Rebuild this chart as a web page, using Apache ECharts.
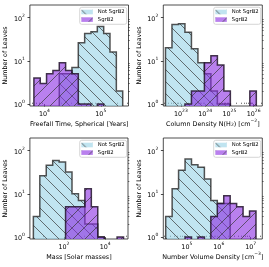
<!DOCTYPE html>
<html><head><meta charset="utf-8">
<script src="https://cdn.jsdelivr.net/npm/echarts@6/dist/echarts.min.js"></script>
<style>html,body{margin:0;padding:0;background:#fff}#c{width:269px;height:267px}</style>
</head><body><div id="c"></div>
<script>
// ---- data: bin edges are log10 of the quantity; counts per bin ----
const freefallEdges = [3.812, 3.925, 4.037, 4.150, 4.263, 4.376, 4.488, 4.601, 4.714, 4.826, 4.939, 5.052, 5.164, 5.277, 5.390];
const freefallNotSgrB2 = [0, 0, 0, 0, 5, 5, 7, 26, 43, 47, 62, 43, 16, 2];
const freefallSgrB2    = [4, 3, 5, 6, 9, 6, 5, 1, 1, 0, 1, 0, 0, 0];

const columnEdges = [22.364, 22.632, 22.900, 23.167, 23.435, 23.703, 23.970, 24.238, 24.506, 24.774, 25.041, 25.309, 25.577, 25.844, 26.112];
const columnNotSgrB2 = [20, 69, 72, 46, 19, 9, 5, 2, 1, 1, 0, 0, 0, 0];
const columnSgrB2    = [0, 0, 0, 1, 2, 2, 9, 13, 8, 2, 0, 0, 0, 2];

const massEdges = [0.523, 0.835, 1.146, 1.458, 1.770, 2.081, 2.393, 2.705, 3.017, 3.328, 3.640, 3.952, 4.263, 4.575, 4.887];
const massNotSgrB2 = [3, 26, 46, 59, 54, 32, 10, 7, 2, 2, 1, 0, 0, 0];
const massSgrB2    = [0, 0, 0, 0, 0, 5, 5, 5, 13, 5, 1, 0, 0, 1];

const densityEdges = [4.336, 4.538, 4.740, 4.943, 5.145, 5.347, 5.549, 5.751, 5.954, 6.156, 6.358, 6.560, 6.762, 6.965, 7.167];
const densityNotSgrB2 = [3, 13, 35, 64, 47, 41, 22, 7, 6, 6, 0, 0, 0, 0];
const densitySgrB2    = [0, 0, 0, 1, 0, 1, 0, 3, 6, 9, 6, 5, 3, 4];

// tick labels (exponents of 10)
const yTickExps = [0, 1, 2];
const freefallTickExps = [4, 5];
const columnTickExps = [23, 24, 25, 26];
const massTickExps = [2, 4];
const densityTickExps = [5, 6, 7];

const seriesNames = ['Not SgrB2', 'SgrB2'];
const xTitles = [
  '{n|Freefall Time, Spherical [Years]}',
  '{n|Column Density N(H}{sub|2}{n|) [cm}{sup|\u22122}{n|]}',
  '{n|Mass [Solar masses]}',
  '{n|Number Volume Density [cm}{sup|\u22123}{n|]}'
];
const yTitle = 'Number of Leaves';

// ---- styling ----
const FONT = 'DejaVu Sans';
const Y_MIN = -0.045, Y_MAX = 2.29;
const BLUE_FILL = 'rgba(150,210,230,0.6)';
const PURPLE_FILL = 'rgba(138,43,226,0.6)';
const BLUE_EDGE = 'rgba(40,40,40,0.8)';
const PURPLE_EDGE = 'rgba(35,20,45,0.85)';

function hatchCanvas(dir, bg) {
  const s = 12;
  const c = document.createElement('canvas');
  c.width = s; c.height = s;
  const ctx = c.getContext('2d');
  if (bg) { ctx.fillStyle = bg; ctx.fillRect(0, 0, s, s); }
  ctx.strokeStyle = 'rgba(55,55,55,0.7)';
  ctx.lineWidth = 1;
  ctx.beginPath();
  for (let k = -1; k <= 1; k++) {
    if (dir === 'back') { ctx.moveTo(k * s, 0); ctx.lineTo(k * s + s, s); }
    else { ctx.moveTo(k * s, s); ctx.lineTo(k * s + s, 0); }
  }
  ctx.stroke();
  return { image: c, repeat: 'repeat' };
}
const blueHatch = hatchCanvas('back');
const purpleHatch = hatchCanvas('fwd');
const blueLegend = hatchCanvas('back', 'rgb(192,228,240)');
const purpleLegend = hatchCanvas('fwd', 'rgb(185,128,238)');

const grids = [
  { left: 29, top: 5, width: 99.5, height: 101 },
  { left: 163.3, top: 5, width: 99, height: 101 },
  { left: 29, top: 138, width: 99, height: 101 },
  { left: 163.3, top: 138, width: 99, height: 101 }
];
const xRanges = [[3.741, 5.493], [22.274, 26.359], [0.355, 5.103], [4.261, 7.365]];
const xMajor = [freefallTickExps, columnTickExps, massTickExps, densityTickExps];

function decadeMinors(lo, hi) {
  const out = [];
  for (let d = Math.floor(lo) - 1; d <= Math.ceil(hi); d++) {
    for (let k = 2; k <= 9; k++) {
      const v = d + Math.log10(k);
      if (v >= lo && v <= hi) out.push(v);
    }
  }
  return out;
}
const xMinor = [
  decadeMinors(xRanges[0][0], xRanges[0][1]),
  decadeMinors(xRanges[1][0], xRanges[1][1]),
  [1, 3, 5],
  decadeMinors(xRanges[3][0], xRanges[3][1])
];
const yMinor = decadeMinors(Y_MIN, Y_MAX);

const tickRich = {
  b: { fontFamily: FONT, fontSize: 6.4, lineHeight: 9, verticalAlign: 'bottom', color: '#000' },
  s: { fontFamily: FONT, fontSize: 4.5, lineHeight: 5, verticalAlign: 'top', color: '#000' }
};
const nameRich = {
  n: { fontFamily: FONT, fontSize: 6.4, lineHeight: 9, verticalAlign: 'bottom', color: '#000' },
  sup: { fontFamily: FONT, fontSize: 4.5, lineHeight: 5, verticalAlign: 'top', color: '#000' },
  sub: { fontFamily: FONT, fontSize: 4.5, lineHeight: 4, verticalAlign: 'bottom', color: '#000' }
};
const fmt = v => '{b|10}{s|' + Math.round(v) + '}';

const xAxes = [], yAxes = [];
grids.forEach((g, p) => {
  xAxes.push({
    type: 'value', gridIndex: p, min: xRanges[p][0], max: xRanges[p][1],
    axisLine: { show: false },
    axisTick: { show: true, length: 2.4, customValues: xMajor[p], lineStyle: { color: '#000', width: 0.7 } },
    axisLabel: { show: true, customValues: xMajor[p], margin: 2, formatter: fmt, rich: tickRich },
    splitLine: { show: false },
    name: xTitles[p], nameLocation: 'middle', nameGap: 12,
    nameTextStyle: { rich: nameRich }
  });
  xAxes.push({
    type: 'value', gridIndex: p, min: xRanges[p][0], max: xRanges[p][1],
    axisLine: { show: false },
    axisTick: { show: true, length: 1.4, customValues: xMinor[p], lineStyle: { color: '#000', width: 0.5 } },
    axisLabel: { show: false }, splitLine: { show: false }
  });
  yAxes.push({
    type: 'value', gridIndex: p, min: Y_MIN, max: Y_MAX,
    axisLine: { show: false },
    axisTick: { show: true, length: 2.4, customValues: yTickExps, lineStyle: { color: '#000', width: 0.7 } },
    axisLabel: { show: true, customValues: yTickExps, margin: 5, formatter: fmt, rich: tickRich },
    splitLine: { show: false },
    name: yTitle, nameLocation: 'middle', nameGap: 18,
    nameTextStyle: { fontFamily: FONT, fontSize: 6.4, lineHeight: 9, color: '#000' }
  });
  yAxes.push({
    type: 'value', gridIndex: p, min: Y_MIN, max: Y_MAX,
    axisLine: { show: false },
    axisTick: { show: true, length: 1.4, customValues: yMinor, lineStyle: { color: '#000', width: 0.5 } },
    axisLabel: { show: false }, splitLine: { show: false }
  });
});

const BELOW = Y_MIN - 0.5; // zero-count bins sit below the visible range and get clipped
function hist(p, name, edges, counts, fill, hatch, edge) {
  return {
    type: 'custom', name: name, coordinateSystem: 'cartesian2d', clip: true,
    xAxisIndex: 2 * p, yAxisIndex: 2 * p,
    data: counts.map((c, i) => [edges[i], edges[i + 1], c]),
    renderItem: function (params, api) {
      if (params.dataIndex !== 0) return null;
      const pts = [api.coord([edges[0], BELOW])];
      counts.forEach((c, i) => {
        const y = c > 0 ? Math.log10(c) : BELOW;
        pts.push(api.coord([edges[i], y]));
        pts.push(api.coord([edges[i + 1], y]));
      });
      pts.push(api.coord([edges[edges.length - 1], BELOW]));
      return {
        type: 'group', children: [
          { type: 'polygon', shape: { points: pts }, style: { fill: fill } },
          { type: 'polygon', shape: { points: pts }, style: { fill: hatch } },
          { type: 'polyline', shape: { points: pts }, style: { fill: null, stroke: edge, lineWidth: 1.5, lineJoin: 'miter' } }
        ]
      };
    }
  };
}

const panels = [
  [freefallEdges, freefallNotSgrB2, freefallSgrB2],
  [columnEdges, columnNotSgrB2, columnSgrB2],
  [massEdges, massNotSgrB2, massSgrB2],
  [densityEdges, densityNotSgrB2, densitySgrB2]
];
const series = [];
panels.forEach((pd, p) => {
  series.push(hist(p, seriesNames[0], pd[0], pd[1], BLUE_FILL, blueHatch, BLUE_EDGE));
  series.push(hist(p, seriesNames[1], pd[0], pd[2], PURPLE_FILL, purpleHatch, PURPLE_EDGE));
});

const legendPos = [
  { right: 142.3, top: 7.3 }, { right: 8.3, top: 7.3 },
  { right: 142.3, top: 140.3 }, { right: 8.3, top: 140.3 }
];
const legends = legendPos.map(pos => Object.assign({
  orient: 'vertical', selectedMode: false,
  padding: [1.6, 2, 1.6, 1.6], itemGap: 1.4, itemWidth: 11.5, itemHeight: 4.6,
  backgroundColor: 'rgba(255,255,255,0.8)', borderColor: '#cccccc', borderWidth: 0.8, borderRadius: 2,
  textStyle: { fontFamily: FONT, fontSize: 5.3, lineHeight: 6.2, color: '#000' },
  data: [
    { name: seriesNames[0], icon: 'rect', itemStyle: { color: blueLegend, borderWidth: 0 } },
    { name: seriesNames[1], icon: 'rect', itemStyle: { color: purpleLegend, borderWidth: 0 } }
  ]
}, pos));

const chart = echarts.init(document.getElementById('c'), null, { renderer: 'canvas' });
chart.setOption({
  animation: false,
  backgroundColor: '#fff',
  grid: grids.map(g => Object.assign({ show: true, borderColor: '#222', borderWidth: 0.8, backgroundColor: 'transparent', containLabel: false }, g)),
  xAxis: xAxes, yAxis: yAxes,
  legend: legends,
  series: series
});
</script></body></html>
